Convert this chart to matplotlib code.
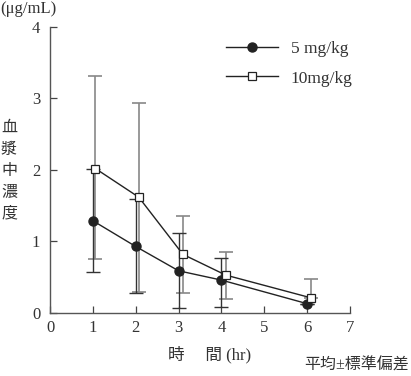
import numpy as np
import matplotlib.pyplot as plt

plt.rcParams['font.family'] = ['Liberation Serif', 'Noto Sans CJK JP']

# data
hours = [1, 2, 3, 4, 6]
low_mean = [1.29, 0.93, 0.59, 0.46, 0.13]
low_up = [0.72, 0.67, 0.53, 0.31, 0.0]
low_down = [0.72, 0.65, 0.52, 0.38, 0.0]
high_x = [1.06, 2.07, 3.1, 4.1, 6.1]
high_mean = [2.02, 1.62, 0.82, 0.53, 0.21]
high_up = [1.30, 1.31, 0.53, 0.32, 0.26]
high_down = [1.27, 1.32, 0.54, 0.34, 0.0]

fig = plt.figure(figsize=(4.11, 3.76), dpi=100)
ax = fig.add_axes([0.1217, 0.1676, 0.730, 0.7606])

ax.errorbar(high_x, high_mean, yerr=[high_down, high_up], fmt='none',
            ecolor='#888888', elinewidth=1.2, capsize=5, capthick=1.2)
ax.errorbar(hours, low_mean, yerr=[low_down, low_up], fmt='none',
            ecolor='#333333', elinewidth=1.0, capsize=5, capthick=1.0)
ax.plot(hours, low_mean, color='#222222', lw=1.0, marker='o', ms=6.5,
        mfc='#222222', mec='#222222', label='5 mg/kg', zorder=3)
ax.plot(high_x, high_mean, color='#222222', lw=1.0, marker='s', ms=5.5,
        mfc='white', mec='#222222', mew=0.9, label='10mg/kg', zorder=3)

ax.set_xlim(0, 7)
ax.set_ylim(0, 4)
ax.set_xticks(range(8))
ax.set_yticks(range(5))
ax.tick_params(direction='in', length=5, width=0.9, labelsize=12,
               color='#444444', labelcolor='#333333')
ax.tick_params(axis='y', pad=7)
ax.tick_params(axis='x', pad=5)
for s in ['top', 'right']:
    ax.spines[s].set_visible(False)
for s in ['left', 'bottom']:
    ax.spines[s].set_color('#555555')
    ax.spines[s].set_linewidth(1.0)

ax.legend(loc='upper right', bbox_to_anchor=(1.06, 1.005), frameon=False,
          fontsize=12.5, handlelength=3.0, handletextpad=0.7, labelspacing=0.75,
          labelcolor='#333333')

fig.text(0.0, 0.977, '(μg/mL)', fontsize=12, color='#333333', va='center', ha='left')
fig.text(0.022, 0.545, '血\n漿\n中\n濃\n度', fontsize=11.5, color='#333333',
         va='center', ha='center', linespacing=1.45)
fig.text(0.51, 0.056, '時　 間 (hr)', fontsize=12, color='#333333', va='center', ha='center')
fig.text(0.995, 0.006, '平均±標準偏差', fontsize=11.5, color='#333333', va='bottom', ha='right')

fig.savefig('out.png', dpi=100)
